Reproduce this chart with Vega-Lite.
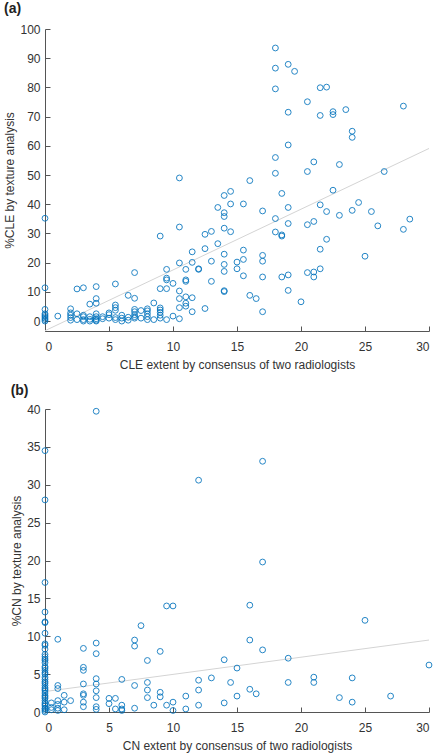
{
  "$schema": "https://vega.github.io/schema/vega-lite/v6.json",
  "background": "white",
  "padding": {"left": 3, "top": 2, "right": 5, "bottom": 3},
  "spacing": 14,
  "config": {
    "font": "Liberation Sans",
    "view": {"stroke": null},
    "axis": {
      "grid": false,
      "domainColor": "#555555",
      "tickColor": "#555555",
      "tickSize": -5,
      "labelOverlap": false,
      "labelFont": "Liberation Sans",
      "labelFontSize": 12,
      "labelColor": "#333333",
      "titleFont": "Liberation Sans",
      "titleFontSize": 12,
      "titleFontWeight": "normal",
      "titleColor": "#333333"
    },
    "axisX": {"labelPadding": 15, "titlePadding": 7},
    "axisY": {"labelPadding": 10, "titlePadding": 3},
    "title": {"font": "Liberation Sans", "fontSize": 14, "fontWeight": "bold", "color": "#222222", "anchor": "start", "frame": "bounds", "offset": 5}
  },
  "datasets": {
    "cle": [
      {"x":18,"y":93.5},{"x":18,"y":86.6},{"x":19,"y":87.9},{"x":19.5,"y":85.5},{"x":18,"y":79.5},{"x":21.5,"y":79.9},{"x":22,"y":80.1},{"x":20.5,"y":75.1},{"x":28,"y":73.6},{"x":19,"y":71.5},{"x":21.5,"y":70.4},{"x":22.5,"y":71.7},{"x":22.5,"y":70.7},{"x":23.5,"y":72.4},{"x":24,"y":65},{"x":24,"y":62.9},{"x":19,"y":60.3},{"x":18,"y":56},{"x":18,"y":50.6},{"x":20.5,"y":51.2},{"x":21,"y":54.5},{"x":23,"y":53.6},{"x":26.5,"y":51.2},{"x":10.5,"y":49},{"x":16,"y":48.1},{"x":14.5,"y":44.4},{"x":14,"y":43},{"x":18.5,"y":43.7},{"x":22.5,"y":44.8},
      {"x":13.5,"y":38.9},{"x":14,"y":37.1},{"x":14,"y":35.8},{"x":14.5,"y":40.1},{"x":15.5,"y":40.1},{"x":17,"y":37.7},{"x":18,"y":35.1},{"x":19,"y":38.9},{"x":21.5,"y":39.8},{"x":22,"y":37.5},{"x":23,"y":36.2},{"x":24,"y":37.9},{"x":24.5,"y":40.6},{"x":25.5,"y":37.5},{"x":26,"y":32.6},{"x":28,"y":31.4},{"x":28.5,"y":34.9},{"x":21,"y":34.1},{"x":20.5,"y":33},{"x":19,"y":33.4},{"x":18,"y":30.5},{"x":18.5,"y":29.5},{"x":18.5,"y":29.1},{"x":21.5,"y":24.6},{"x":22,"y":28},{"x":25,"y":22.2},{"x":10.5,"y":32.2},{"x":9,"y":29.1},{"x":12.5,"y":29.7},{"x":13,"y":30.7},{"x":13.5,"y":26.5},{"x":14,"y":31.8},{"x":14.5,"y":30.6},{"x":11.5,"y":23.7},{"x":12.5,"y":24.8},{"x":14,"y":22.9},{"x":15.5,"y":24.3},{"x":17,"y":22.5},{"x":17,"y":20.5},{"x":15.5,"y":21.1},{"x":15,"y":20.2},{"x":15,"y":17.9},{"x":14,"y":19.4},{"x":14,"y":17},{"x":13,"y":20.5},{"x":11.5,"y":20.1},{"x":10.5,"y":19.9},{"x":12,"y":17.9},{"x":12,"y":17.7},{"x":11,"y":17.7},{"x":9.5,"y":17.7},{"x":9.5,"y":14.7},{"x":9.5,"y":14.1},{"x":9,"y":11.1},{"x":9.5,"y":11.1},{"x":10,"y":12.9},{"x":11,"y":14.1},{"x":11,"y":13.6},{"x":13,"y":13.6},{"x":15.5,"y":15.5},{"x":17,"y":15.1},{"x":18.5,"y":15.1},{"x":19,"y":15.8},{"x":20.5,"y":16.6},{"x":21,"y":16.8},{"x":21,"y":15.1},{"x":21.5,"y":17.9},{"x":7,"y":16.6},{"x":5.5,"y":12.7},{"x":2.5,"y":11},{"x":3,"y":11.4},{"x":4,"y":11.8},{"x":0,"y":11.4},{"x":0,"y":35.2},{"x":14,"y":10.4},{"x":14,"y":10.1},{"x":19,"y":10.5},{"x":10.5,"y":10.3},{"x":16,"y":8.8},{"x":16.5,"y":7.7},{"x":20,"y":6.6},{"x":17,"y":3.2},{"x":12.5,"y":4.3},{"x":11.5,"y":8},{"x":11,"y":8.3},{"x":10.5,"y":7.7},{"x":11,"y":6.1},{"x":11,"y":5.1},{"x":10.5,"y":4.6},{"x":11.5,"y":3.2},{"x":10.5,"y":0.8},{"x":10,"y":1.7},{"x":8.5,"y":6.2},{"x":6.5,"y":8.8},{"x":7,"y":7.8},{"x":4,"y":7.7},{"x":4,"y":6.1},{"x":3.5,"y":5.8},{"x":5.5,"y":5.5},{"x":5.5,"y":4.6},{"x":5.5,"y":3.7},{"x":2,"y":4.2},{"x":1,"y":1.7},
      {"x":0,"y":0},{"x":0,"y":0.5},{"x":0,"y":1},{"x":0,"y":1.5},{"x":0,"y":2},{"x":0,"y":2.5},{"x":0,"y":4},
      {"x":2,"y":0.3},{"x":2,"y":1.2},{"x":2,"y":2},{"x":2,"y":2.8},{"x":2.5,"y":0.5},{"x":2.5,"y":2.5},
      {"x":3,"y":0},{"x":3,"y":0.5},{"x":3,"y":1.5},{"x":3,"y":2},{"x":3.5,"y":0},{"x":3.5,"y":0.6},{"x":3.5,"y":1.5},
      {"x":4,"y":0},{"x":4,"y":0.3},{"x":4,"y":0.8},{"x":4,"y":1.5},{"x":4,"y":2.5},{"x":4.5,"y":0.8},{"x":4.5,"y":1.5},
      {"x":5,"y":1},{"x":5,"y":2.2},{"x":5,"y":2.8},{"x":5.5,"y":0.5},{"x":5.5,"y":1.2},
      {"x":6,"y":0},{"x":6,"y":1},{"x":6,"y":2},{"x":6.5,"y":0.3},{"x":6.5,"y":1.3},
      {"x":7,"y":1},{"x":7,"y":1.5},{"x":7,"y":2.2},{"x":7,"y":3.2},{"x":7,"y":4},{"x":7.5,"y":1},{"x":7.5,"y":3.6},
      {"x":8,"y":0.5},{"x":8,"y":1.5},{"x":8,"y":2.5},{"x":8,"y":3.5},{"x":8,"y":4.2},{"x":8.5,"y":0.5},
      {"x":9,"y":1},{"x":9,"y":2},{"x":9,"y":3},{"x":9,"y":3.8},{"x":9,"y":4.5},{"x":9.5,"y":0.5}
    ],
    "cle_fit": [{"x":0,"y":-3.3},{"x":30,"y":59.1}],
    "cn": [
      {"x":4,"y":39.7},{"x":0,"y":34.5},{"x":0,"y":28},{"x":12,"y":30.6},{"x":17,"y":33.1},{"x":17,"y":19.8},{"x":0,"y":17.1},{"x":0,"y":13.2},{"x":0,"y":11.8},{"x":0,"y":10.4},{"x":0,"y":9},{"x":0,"y":8.3},{"x":0,"y":7.6},{"x":0,"y":7},{"x":0,"y":6.5},{"x":0,"y":6},{"x":0,"y":5.5},{"x":0,"y":5},{"x":0,"y":4.6},{"x":0,"y":4},{"x":0,"y":3.5},{"x":0,"y":3},{"x":0,"y":2.5},{"x":0,"y":2},{"x":0,"y":1.5},{"x":0,"y":1},{"x":0,"y":0.5},{"x":0,"y":0},{"x":0,"y":0.2},{"x":0,"y":0.8},{"x":0,"y":1.2},{"x":0,"y":2.2},{"x":0,"y":2.8},{"x":0,"y":3.8},{"x":0,"y":5.2},{"x":0,"y":7.3},{"x":0,"y":6.8},{"x":0,"y":5.8},{"x":0,"y":4.3},{"x":0,"y":3.2},{"x":0,"y":1.8},{"x":0,"y":0.4},{"x":0,"y":8.8},{"x":0,"y":11.9},
      {"x":1,"y":9.6},{"x":1,"y":3.5},{"x":1,"y":3.1},{"x":1,"y":1.5},{"x":1,"y":1},{"x":1,"y":0.5},{"x":1,"y":0.2},{"x":0.5,"y":1.2},{"x":0.5,"y":0.6},{"x":0.5,"y":0.3},{"x":1.5,"y":2.2},{"x":1.5,"y":1.3},{"x":1.5,"y":0.3},{"x":2,"y":1.5},
      {"x":3,"y":8.4},{"x":3,"y":5.9},{"x":3,"y":5.5},{"x":3,"y":3.7},{"x":3,"y":2.4},{"x":3,"y":2.2},{"x":3,"y":1.3},{"x":3,"y":0.7},{"x":4,"y":9.1},{"x":4,"y":7.7},{"x":4,"y":4.4},{"x":4,"y":3.7},{"x":4,"y":2.8},{"x":4,"y":1.9},{"x":4,"y":0.7},{"x":4,"y":0.35},{"x":5,"y":1.8},{"x":5,"y":1.1},{"x":5.5,"y":1.8},{"x":5.5,"y":0.4},{"x":6,"y":4.3},{"x":6,"y":0.9},{"x":6,"y":0.4},{"x":6,"y":0.2},{"x":7,"y":3.5},{"x":7,"y":9.5},{"x":7,"y":8.7},{"x":7,"y":0.5},{"x":7.5,"y":11.4},{"x":8,"y":6.8},{"x":8,"y":3.9},{"x":8,"y":2.9},{"x":8,"y":1.9},{"x":8.5,"y":0.9},{"x":9,"y":8},{"x":9,"y":2.6},{"x":9,"y":2},{"x":9.5,"y":14},{"x":10,"y":14},{"x":9.5,"y":0.9},{"x":10,"y":1.3},{"x":10,"y":0.2},{"x":11,"y":2.1},{"x":11,"y":0.4},{"x":12,"y":4.2},{"x":12,"y":2.9},{"x":12,"y":0.9},{"x":13,"y":4.5},{"x":14,"y":6.9},{"x":14,"y":1.2},{"x":14.5,"y":3.9},{"x":15,"y":5.8},{"x":15,"y":2.1},{"x":16,"y":14.1},{"x":16,"y":9.5},{"x":16,"y":3},{"x":16.5,"y":2.4},{"x":17,"y":8.2},{"x":19,"y":7.1},{"x":19,"y":3.9},{"x":21,"y":4.6},{"x":21,"y":3.9},{"x":23,"y":1.9},{"x":24,"y":4.5},{"x":24,"y":1.3},{"x":25,"y":12.1},{"x":27,"y":2.1},{"x":30,"y":6.2}
    ],
    "cn_fit": [{"x":0,"y":2.7},{"x":30,"y":9.5}]
  },
  "vconcat": [
    {
      "title": {"text": "(a)", "offset": 7},
      "width": 384,
      "height": 302,
      "layer": [
        {
          "data": {"name": "cle_fit"},
          "mark": {"type": "line", "color": "#d4d4d4", "strokeWidth": 1, "clip": true},
          "encoding": {
            "x": {"field": "x", "type": "quantitative", "scale": {"domain": [0, 30], "nice": false}},
            "y": {"field": "y", "type": "quantitative", "scale": {"domain": [-3.4, 100], "nice": false, "zero": false}}
          }
        },
        {
          "data": {"name": "cle"},
          "mark": {"type": "point", "shape": "circle", "filled": false, "color": "#0072BD", "size": 34, "strokeWidth": 1, "opacity": 0.85},
          "encoding": {
            "x": {"field": "x", "type": "quantitative", "scale": {"domain": [0, 30], "nice": false},
                  "axis": {"values": [0, 5, 10, 15, 20, 25, 30], "labelOverlap": false, "title": "CLE extent by consensus of two radiologists"}},
            "y": {"field": "y", "type": "quantitative", "scale": {"domain": [-3.4, 100], "nice": false, "zero": false},
                  "axis": {"values": [0, 10, 20, 30, 40, 50, 60, 70, 80, 90, 100], "labelOverlap": false, "tickCount": 11, "title": "%CLE by texture analysis"}}
          }
        }
      ]
    },
    {
      "title": {"text": "(b)"},
      "width": 384,
      "height": 303,
      "layer": [
        {
          "data": {"name": "cn_fit"},
          "mark": {"type": "line", "color": "#d4d4d4", "strokeWidth": 1, "clip": true},
          "encoding": {
            "x": {"field": "x", "type": "quantitative", "scale": {"domain": [0, 30], "nice": false}},
            "y": {"field": "y", "type": "quantitative", "scale": {"domain": [0, 40], "nice": false}}
          }
        },
        {
          "data": {"name": "cn"},
          "mark": {"type": "point", "shape": "circle", "filled": false, "color": "#0072BD", "size": 34, "strokeWidth": 1, "opacity": 0.85},
          "encoding": {
            "x": {"field": "x", "type": "quantitative", "scale": {"domain": [0, 30], "nice": false},
                  "axis": {"values": [0, 5, 10, 15, 20, 25, 30], "labelOverlap": false, "title": "CN extent by consensus of two radiologists"}},
            "y": {"field": "y", "type": "quantitative", "scale": {"domain": [0, 40], "nice": false},
                  "axis": {"values": [0, 5, 10, 15, 20, 25, 30, 35, 40], "labelOverlap": false, "tickCount": 9, "title": "%CN by texture analysis"}}
          }
        }
      ]
    }
  ]
}
